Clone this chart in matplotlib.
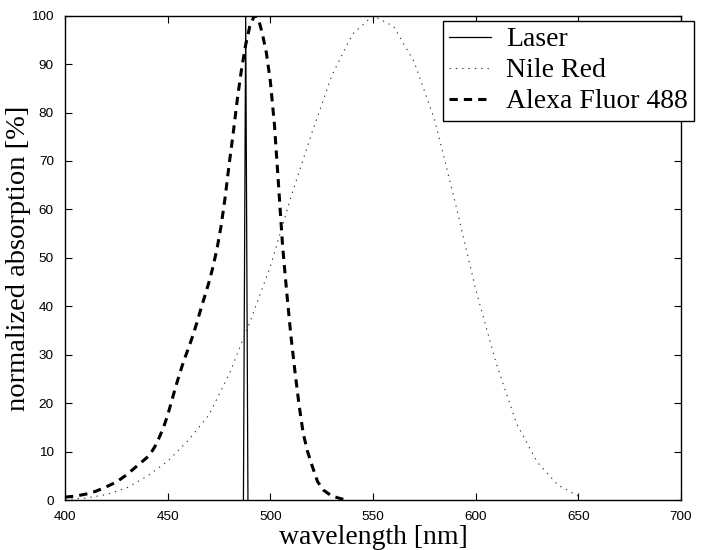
import matplotlib
matplotlib.use("Agg")
import matplotlib.pyplot as plt

# ---- data ----
laser_x = [486.9, 488.0, 489.1]
laser_y = [0, 100, 0]

nile_x = [400, 410, 420, 430, 440, 450, 460, 470, 480, 490, 500, 510, 520, 530,
          540, 550, 560, 570, 580, 590, 600, 610, 620, 630, 640, 650]
nile_y = [0.1, 0.4, 1.1, 2.5, 4.9, 8.0, 12.3, 17.5, 26.0, 36.7, 48.2, 62.5, 75.5, 87.7,
          96.2, 100.0, 97.8, 90.5, 78.5, 61.5, 43.5, 28.2, 15.7, 7.8, 3.1, 0.8]

alexa_x = [400, 405, 410, 415, 420, 425, 430, 435, 440, 442, 444, 446, 448, 450, 452,
           454, 456, 458, 460, 462, 464, 466, 468, 470, 472, 474, 476, 478, 480, 482,
           484, 486, 488, 490, 492, 493, 494, 496, 498, 500, 502, 504, 506, 508, 510,
           512, 514, 516, 518, 520, 523, 526, 530, 535, 538]
alexa_y = [0.6, 0.8, 1.2, 1.8, 2.7, 3.7, 5.2, 7.0, 8.8, 9.8, 11.2, 13.0, 15.0, 17.5, 20.5,
           23.5, 26.3, 28.9, 31.2, 33.6, 36.3, 39.2, 42.0, 44.8, 48.0, 51.8, 56.5, 62.5, 69.5, 76.0,
           83.0, 89.0, 94.0, 97.8, 99.8, 100.0, 99.6, 96.5, 92.5, 86.5, 77.5, 65.0, 52.3, 42.8, 34.0,
           26.5, 19.6, 13.8, 10.2, 7.5, 3.8, 2.0, 0.8, 0.2, 0.0]

x_ticks = [400, 450, 500, 550, 600, 650, 700]
y_ticks = [0, 10, 20, 30, 40, 50, 60, 70, 80, 90, 100]

serif = "Liberation Serif"
sans = "Liberation Sans"

fig = plt.figure(figsize=(7.01, 5.5), dpi=100)
ax = fig.add_axes([0.0927, 0.0909, 0.8788, 0.8806])

ax.plot(laser_x, laser_y, color="black", lw=0.9, label="Laser")
ax.plot(nile_x, nile_y, color="#333333", lw=0.8, ls=(0, (1.2, 4.5)), label="Nile Red")
ax.plot(alexa_x, alexa_y, color="black", lw=2.2, ls=(0, (2.7, 2.0)), label="Alexa Fluor 488")

ax.set_xlim(400, 700)
ax.set_ylim(0, 100)
ax.set_xticks(x_ticks)
ax.set_yticks(y_ticks)
ax.tick_params(direction="in", top=True, right=True, length=5, width=0.8)
ax.tick_params(axis="x", pad=8)
ax.tick_params(axis="y", pad=8)
for lab in ax.get_xticklabels() + ax.get_yticklabels():
    lab.set_fontfamily(sans)
    lab.set_fontsize(9.7)
for s in ax.spines.values():
    s.set_linewidth(1.0)

ax.set_xlabel("wavelength [nm]", fontfamily=serif, fontsize=20, labelpad=1)
ax.set_ylabel("normalized absorption [%]", fontfamily=serif, fontsize=20.5, labelpad=0)

leg = ax.legend(loc="upper left", bbox_to_anchor=(0.632, 0.962), bbox_transform=fig.transFigure,
                prop={"family": serif, "size": 20}, frameon=True, fancybox=False,
                edgecolor="black", framealpha=1, handlelength=1.5, handletextpad=0.55,
                labelspacing=0.2, borderpad=0.22, borderaxespad=0)
leg.get_frame().set_linewidth(1.0)

fig.savefig("out.png", dpi=100)
